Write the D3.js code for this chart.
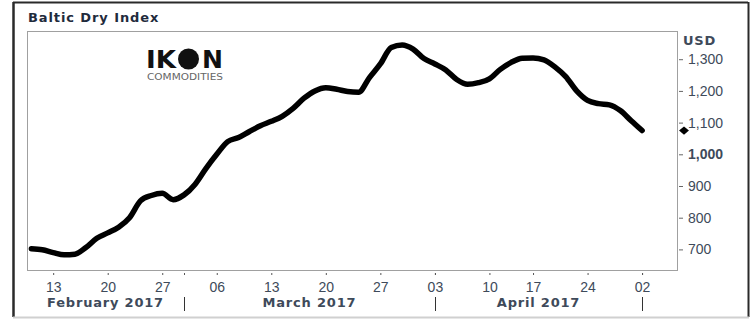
<!DOCTYPE html>
<html>
<head>
<meta charset="utf-8">
<script src="https://cdn.jsdelivr.net/npm/d3@7"></script>
<style>
  body { margin: 0; background: #fff; }
  svg { display: block; font-family: 'DejaVu Sans', Verdana, sans-serif; }
  .lbl { fill: #3e4a5a; font-size: 14px; }
  .mon { fill: #3e4a5a; font-size: 13px; font-weight: bold; letter-spacing: 0.8px; }
</style>
</head>
<body>
<div id="chart"></div>
<script>
const dates = [
  '2017-02-09', '2017-02-10',
  '2017-02-13', '2017-02-14', '2017-02-15', '2017-02-16', '2017-02-17',
  '2017-02-20', '2017-02-21', '2017-02-22', '2017-02-23', '2017-02-24',
  '2017-02-27', '2017-02-28', '2017-03-01', '2017-03-02', '2017-03-03',
  '2017-03-06', '2017-03-07', '2017-03-08', '2017-03-09', '2017-03-10',
  '2017-03-13', '2017-03-14', '2017-03-15', '2017-03-16', '2017-03-17',
  '2017-03-20', '2017-03-21', '2017-03-22', '2017-03-23', '2017-03-24',
  '2017-03-27', '2017-03-28', '2017-03-29', '2017-03-30', '2017-03-31',
  '2017-04-03', '2017-04-04', '2017-04-05', '2017-04-06', '2017-04-07',
  '2017-04-10', '2017-04-11', '2017-04-12', '2017-04-13',
  '2017-04-17', '2017-04-18', '2017-04-19', '2017-04-20', '2017-04-21',
  '2017-04-24', '2017-04-25', '2017-04-26', '2017-04-27', '2017-04-28',
  '2017-05-02'
];
const bdi = [
  702, 699,
  690, 683, 685, 706, 735,
  752, 770, 800, 853, 870,
  877, 857, 872, 905, 955,
  1000, 1040, 1053, 1072, 1090,
  1104, 1120, 1145, 1177, 1200,
  1210, 1205, 1198, 1196, 1242,
  1285, 1337, 1345, 1332, 1302,
  1285, 1266, 1236, 1221, 1226,
  1238, 1268, 1290, 1303,
  1304, 1298, 1276, 1245, 1200,
  1170, 1160, 1156, 1138, 1106,
  1075
];
const weekTicks = ['2017-02-13', '2017-02-20', '2017-02-27', '2017-03-06', '2017-03-13', '2017-03-20',
  '2017-03-27', '2017-04-03', '2017-04-10', '2017-04-17', '2017-04-24', '2017-05-02'];
const monthStarts = ['2017-03-01', '2017-04-03', '2017-05-02'];
const monthLabels = ['February 2017', 'March 2017', 'April 2017'];
const yTicks = [700, 800, 900, 1000, 1100, 1200, 1300];

const W = 751, H = 320;
const plot = { left: 27, top: 31, right: 677, bottom: 270 };

const svg = d3.select('#chart').append('svg')
  .attr('width', W)
  .attr('height', H);

// outer frame
svg.append('line').attr('x1', 13).attr('x2', 748).attr('y1', 2.5).attr('y2', 2.5)
  .attr('stroke', '#2a2a2a').attr('stroke-width', 2);
svg.append('line').attr('x1', 13.5).attr('x2', 13.5).attr('y1', 2).attr('y2', 317)
  .attr('stroke', '#2a2a2a').attr('stroke-width', 2.5);
svg.append('line').attr('x1', 748.5).attr('x2', 748.5).attr('y1', 2).attr('y2', 317)
  .attr('stroke', '#2a2a2a').attr('stroke-width', 2);
svg.append('line').attr('x1', 13).attr('x2', 749).attr('y1', 317.5).attr('y2', 317.5)
  .attr('stroke', '#d0d0d0').attr('stroke-width', 2);

svg.append('text')
  .attr('x', 28).attr('y', 22)
  .attr('fill', '#1f2b3c')
  .style('font-weight', 'bold')
  .style('font-size', '13px')
  .style('letter-spacing', '0.9px')
  .text('Baltic Dry Index');

// plot box
svg.append('rect')
  .attr('x', plot.left + 0.5).attr('y', plot.top + 0.5)
  .attr('width', plot.right - plot.left).attr('height', plot.bottom - plot.top)
  .attr('fill', '#fff')
  .attr('stroke', '#a0a0a0');

// scales: x over trading-day index
const idx = d => dates.indexOf(d);
const x = d3.scaleLinear().domain([-0.4, 59.2]).range([plot.left, plot.right]);
const y = d3.scaleLinear().domain([635, 1389]).range([plot.bottom, plot.top]);

// logo
const logo = svg.append('g').attr('fill', '#111');
logo.append('text').attr('x', 146).attr('y', 68)
  .attr('textLength', 30).attr('lengthAdjust', 'spacingAndGlyphs')
  .style('font-weight', 'bold').style('font-size', '25px').text('IK');
logo.append('circle').attr('cx', 188.5).attr('cy', 59).attr('r', 10.5);
logo.append('text').attr('x', 202).attr('y', 68)
  .attr('textLength', 21).attr('lengthAdjust', 'spacingAndGlyphs')
  .style('font-weight', 'bold').style('font-size', '25px').text('N');
logo.append('text').attr('x', 147).attr('y', 80)
  .attr('textLength', 76).attr('lengthAdjust', 'spacingAndGlyphs')
  .attr('fill', '#666')
  .style('font-size', '8px').text('COMMODITIES');

// line
const line = d3.line()
  .x((d, i) => x(i))
  .y(d => y(d))
  .curve(d3.curveMonotoneX);

svg.append('path')
  .datum(bdi)
  .attr('fill', 'none')
  .attr('stroke', '#000')
  .attr('stroke-width', 5.5)
  .attr('stroke-linejoin', 'round')
  .attr('stroke-linecap', 'round')
  .attr('d', line);

// last value marker
svg.append('path')
  .attr('d', d3.symbol(d3.symbolSquare, 34)())
  .attr('transform', `translate(684,${y(bdi[bdi.length - 1])}) scale(1.2,1) rotate(45)`)
  .attr('fill', '#000');

// y axis
const yAxis = svg.append('g')
  .attr('transform', `translate(${plot.right},0)`)
  .call(d3.axisRight(y).tickValues(yTicks).tickFormat(d3.format(',')).tickSize(6).tickPadding(5))
  .call(g => g.select('.domain').remove());
yAxis.selectAll('line').attr('stroke', '#666').attr('x1', 2);
yAxis.selectAll('text')
  .attr('class', 'lbl')
  .attr('font-family', null)
  .attr('font-size', null)
  .style('font-weight', d => d === 1000 ? 'bold' : 'normal');

svg.append('text')
  .attr('x', 683).attr('y', 45)
  .attr('fill', '#3e4a5a')
  .style('font-weight', 'bold').style('font-size', '13px')
  .style('letter-spacing', '0.8px')
  .text('USD');

// x axis: week labels
const parse = d3.timeParse('%Y-%m-%d');
const xAxis = svg.append('g')
  .attr('transform', `translate(0,${plot.bottom + 3})`)
  .call(d3.axisBottom(x)
    .tickValues(weekTicks.map(idx))
    .tickFormat(i => d3.timeFormat('%d')(parse(dates[i])))
    .tickSize(2).tickPadding(7))
  .call(g => g.select('.domain').remove());
xAxis.selectAll('line').attr('stroke', '#555');
xAxis.selectAll('text')
  .attr('class', 'lbl')
  .attr('font-family', null)
  .attr('font-size', null);

// month boundary dots
svg.append('g').selectAll('line')
  .data(monthStarts.map(idx))
  .join('line')
  .attr('x1', d => Math.round(x(d)) + 0.5).attr('x2', d => Math.round(x(d)) + 0.5)
  .attr('y1', plot.bottom + 3).attr('y2', plot.bottom + 5)
  .attr('stroke', '#555');

// month separators
svg.append('g').selectAll('line')
  .data(monthStarts.map(idx))
  .join('line')
  .attr('x1', d => Math.round(x(d)) + 0.5).attr('x2', d => Math.round(x(d)) + 0.5)
  .attr('y1', 297).attr('y2', 311)
  .attr('stroke', '#333');

// month labels, centred between boundaries
const bounds = [plot.left].concat(monthStarts.map(d => x(idx(d))));
svg.append('g').selectAll('text')
  .data(monthLabels)
  .join('text')
  .attr('class', 'mon')
  .attr('x', (d, i) => (bounds[i] + bounds[i + 1]) / 2)
  .attr('y', 307)
  .attr('text-anchor', 'middle')
  .text(d => d);
</script>
</body>
</html>
